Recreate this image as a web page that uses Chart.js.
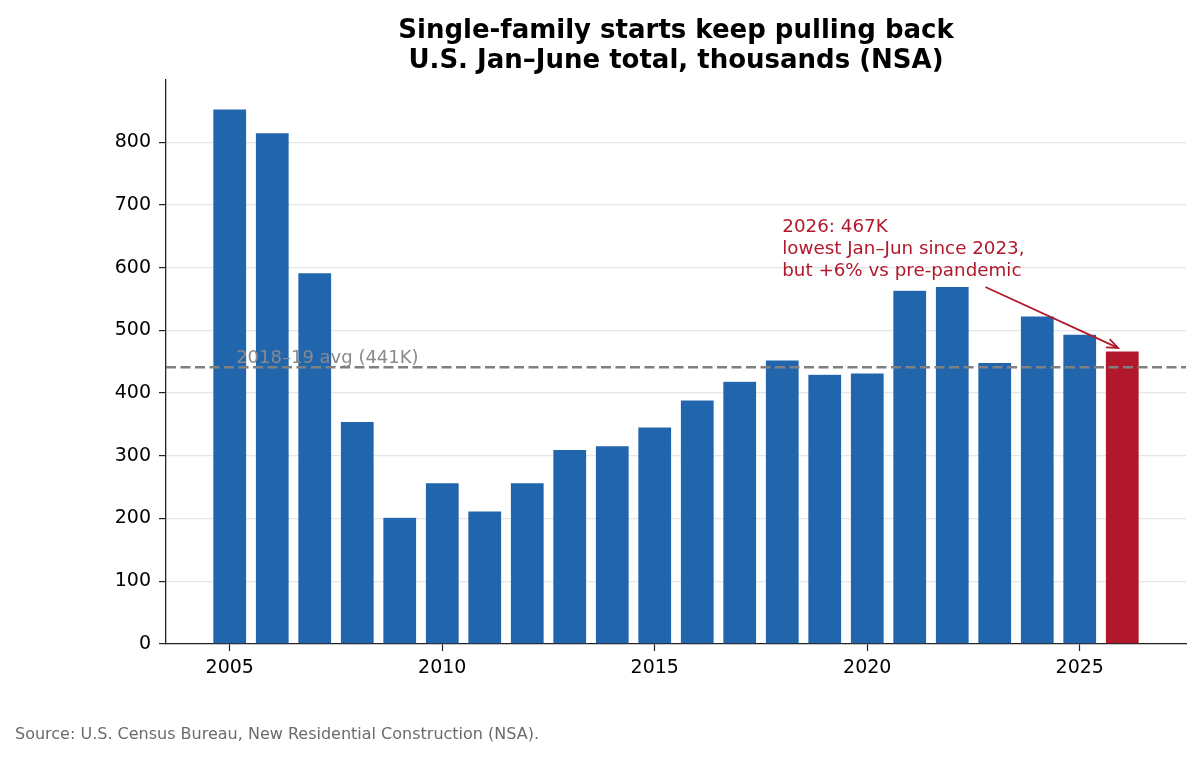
<!DOCTYPE html>
<html>
<head>
<meta charset="utf-8">
<script src="https://cdn.jsdelivr.net/npm/chart.js@4/dist/chart.umd.min.js"></script>
<style>
  html, body { margin: 0; padding: 0; background: #fff; }
  #wrap { width: 1200px; height: 758px; }
</style>
</head>
<body>
<div id="wrap"><canvas id="starts" width="1200" height="758"></canvas></div>
<script>
// Jan-June single-family starts, thousands (NSA)
var years  = [2005, 2006, 2007, 2008, 2009, 2010, 2011, 2012, 2013, 2014, 2015,
              2016, 2017, 2018, 2019, 2020, 2021, 2022, 2023, 2024, 2025, 2026];
var starts = [853, 815, 592, 355, 202, 257, 212, 257, 310, 316, 346,
              389, 419, 453, 430, 432, 564, 570, 449, 523, 494, 467];
var xTicks = [2005, 2010, 2015, 2020, 2025];
var yTicks = [0, 100, 200, 300, 400, 500, 600, 700, 800];
var avgValue = 441;          // 2018-19 average
var avgLabel = '2018\u201319 avg (441K)';
var highlightYear = 2026;

var titleLines = ['Single-family starts keep pulling back', 'U.S. Jan\u2013June total, thousands (NSA)'];
var noteLines = ['2026: 467K', 'lowest Jan\u2013Jun since 2023,', 'but +6% vs pre-pandemic'];
var sourceText = 'Source: U.S. Census Bureau, New Residential Construction (NSA).';

var BLUE = '#2166ac', RED = '#b2182b', FONT = '"DejaVu Sans", sans-serif';

var points = [];
var colors = [];
for (var i = 0; i < years.length; i++) {
  points.push({x: years[i], y: starts[i]});
  colors.push(years[i] === highlightYear ? RED : BLUE);
}

// dashed average line, labels, arrow note, title, source
var overlay = {
  id: 'overlay',
  afterDatasetsDraw: function (chart) {
    var c = chart.ctx, xs = chart.scales.x, ys = chart.scales.y, a = chart.chartArea;
    c.save();
    var yAvg = ys.getPixelForValue(avgValue);
    c.strokeStyle = '#808080';
    c.lineWidth = 2.5;
    c.setLineDash([10, 4.5]);
    c.beginPath();
    c.moveTo(a.left, yAvg);
    c.lineTo(a.right, yAvg);
    c.stroke();
    c.setLineDash([]);

    c.fillStyle = '#8a8a8a';
    c.font = '18px ' + FONT;
    c.textAlign = 'left';
    c.textBaseline = 'alphabetic';
    c.fillText(avgLabel, xs.getPixelForValue(2005.15), yAvg - 4);

    // note text
    c.fillStyle = RED;
    c.font = '18.3px ' + FONT;
    var nx = xs.getPixelForValue(2018.0);
    for (var k = 0; k < noteLines.length; k++) {
      c.fillText(noteLines[k], nx, 232 + k * 22);
    }

    // arrow to the 2026 bar
    var x0 = xs.getPixelForValue(2022.78), y0 = ys.getPixelForValue(569);
    var x1 = xs.getPixelForValue(2025.9), y1 = ys.getPixelForValue(472);
    c.strokeStyle = RED;
    c.lineWidth = 1.8;
    c.beginPath();
    c.moveTo(x0, y0);
    c.lineTo(x1, y1);
    c.stroke();
    var ang = Math.atan2(y1 - y0, x1 - x0), hl = 12, hw = 0.38;
    c.beginPath();
    c.moveTo(x1 - hl * Math.cos(ang - hw), y1 - hl * Math.sin(ang - hw));
    c.lineTo(x1, y1);
    c.lineTo(x1 - hl * Math.cos(ang + hw), y1 - hl * Math.sin(ang + hw));
    c.stroke();
    c.restore();
  },
  afterDraw: function (chart) {
    var c = chart.ctx, a = chart.chartArea;
    c.save();
    c.fillStyle = '#000';
    c.font = 'bold 26px ' + FONT;
    c.textAlign = 'center';
    c.textBaseline = 'alphabetic';
    var cx = (a.left + a.right) / 2;
    c.fillText(titleLines[0], cx, 38);
    c.fillText(titleLines[1], cx, 68);

    c.fillStyle = '#6b6b6b';
    c.font = '16px ' + FONT;
    c.textAlign = 'left';
    c.fillText(sourceText, 15, 739);
    c.restore();
  }
};

var ctx = document.getElementById('starts').getContext('2d');
var myChart = new Chart(ctx, {
  type: 'bar',
  data: {
    datasets: [{
      label: 'Starts',
      data: points,
      backgroundColor: colors,
      borderColor: 'rgba(255,255,255,0.35)',
      borderWidth: 0.6,
      barPercentage: 0.8,
      categoryPercentage: 1.0
    }]
  },
  options: {
    responsive: false,
    animation: false,
    devicePixelRatio: 1,
    layout: { padding: { top: 80, right: 14, bottom: 0, left: 0 } },
    plugins: {
      legend: { display: false },
      title: { display: false },
      tooltip: { enabled: false }
    },
    scales: {
      x: {
        type: 'linear',
        min: 2003.5,
        max: 2027.5,
        offset: false,
        afterFit: function (s) { s.height = 114; },
        afterBuildTicks: function (s) { s.ticks = xTicks.map(function (v) { return {value: v}; }); },
        ticks: { color: '#000', font: { family: FONT, size: 19 }, padding: 6,
                 maxRotation: 0, callback: function (v) { return String(v); } },
        grid: { offset: false, drawOnChartArea: false, drawTicks: true, tickLength: 7, tickColor: '#222', tickWidth: 1.2 },
        border: { display: true, color: '#222', width: 1.3 }
      },
      y: {
        min: 0,
        max: 899,
        z: 1,
        afterFit: function (s) { s.width = 166; },
        afterBuildTicks: function (s) { s.ticks = yTicks.map(function (v) { return {value: v}; }); },
        ticks: { color: '#000', font: { family: FONT, size: 19 }, padding: 8 },
        grid: {
          color: function (g) { return g.tick && g.tick.value === 0 ? 'rgba(0,0,0,0)' : 'rgba(200,200,200,0.45)'; },
          lineWidth: 1.2,
          tickLength: 7,
          tickColor: '#222',
          tickWidth: 1.2
        },
        border: { display: true, color: '#222', width: 1.3 }
      }
    }
  },
  plugins: [overlay]
});
</script>
</body>
</html>
